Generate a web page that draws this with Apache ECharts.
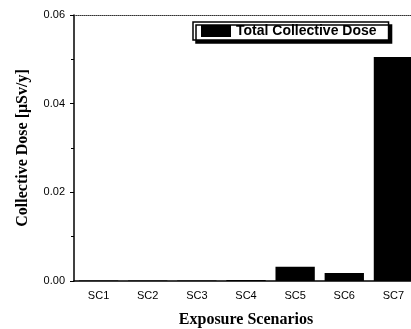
<!DOCTYPE html>
<html><head><meta charset="utf-8">
<script src="https://cdn.jsdelivr.net/npm/echarts@6/dist/echarts.min.js"></script>
<style>html,body{margin:0;padding:0;background:#fff}#c{width:411px;height:329px}</style>
</head><body><div id="c"></div>
<script>
const categories = ['SC1','SC2','SC3','SC4','SC5','SC6','SC7'];
const doseValues = [0.0001, 0.0001, 0.0001, 0.0002, 0.0032, 0.0018, 0.0505];
const yTicks = [0, 0.02, 0.04, 0.06];
const seriesName = 'Total Collective Dose';

const chart = echarts.init(document.getElementById('c'), null, {renderer:'canvas'});
chart.setOption({
  animation: false,
  backgroundColor: '#fff',
  grid: {left: 74, top: 15, width: 344, height: 266, outerBoundsMode: 'none', containLabel: false},
  legend: {
    data: [{name: seriesName, icon: 'rect'}], top: 22, left: 193,
    itemWidth: 30, itemHeight: 12, itemGap: 6,
    padding: [2, 12, 2, 8],
    borderColor: '#000', borderWidth: 1.5,
    shadowColor: '#000', shadowOffsetX: 3, shadowOffsetY: 3, shadowBlur: 0,
    backgroundColor: '#fff',
    textStyle: {fontFamily: 'Liberation Sans, Arial', fontWeight: 'bold', fontSize: 14, color: '#000'}
  },
  xAxis: [{
    type: 'category', data: categories,
    name: 'Exposure Scenarios', nameLocation: 'middle', nameGap: 31,
    nameTextStyle: {fontFamily: 'Liberation Serif, Times New Roman', fontWeight: 'bold', fontSize: 16, color: '#000'},
    axisLine: {lineStyle: {color: '#000', width: 1.5}},
    axisTick: {alignWithLabel: true, length: 5, lineStyle: {color: '#000'}},
    axisLabel: {fontFamily: 'Liberation Sans, Arial', fontSize: 11, color: '#000', margin: 9}
  }, {
    type: 'category', data: categories, position: 'top',
    axisLine: {lineStyle: {color: '#333', width: 1, type: 'dotted'}},
    axisTick: {show: false}, axisLabel: {show: false}
  }],
  yAxis: {
    type: 'value', min: 0, max: 0.06, interval: 0.02,
    name: 'Collective Dose [\u03bcSv/y]', nameLocation: 'middle', nameGap: 43,
    nameTextStyle: {fontFamily: 'Liberation Serif, Times New Roman', fontWeight: 'bold', fontSize: 16, color: '#000'},
    axisLine: {show: true, lineStyle: {color: '#000', width: 1.5}},
    axisTick: {show: true, length: 4, lineStyle: {color: '#000'}},
    minorTick: {show: true, splitNumber: 2, length: 3, lineStyle: {color: '#000'}},
    splitLine: {show: false},
    axisLabel: {fontFamily: 'Liberation Sans, Arial', fontSize: 11, color: '#000', margin: 9,
      formatter: v => yTicks.includes(+v.toFixed(2)) ? v.toFixed(2) : ''}
  },
  series: [{
    name: seriesName, type: 'bar', data: doseValues, barWidth: '80%',
    itemStyle: {color: '#000'}
  }]
});
</script></body></html>
